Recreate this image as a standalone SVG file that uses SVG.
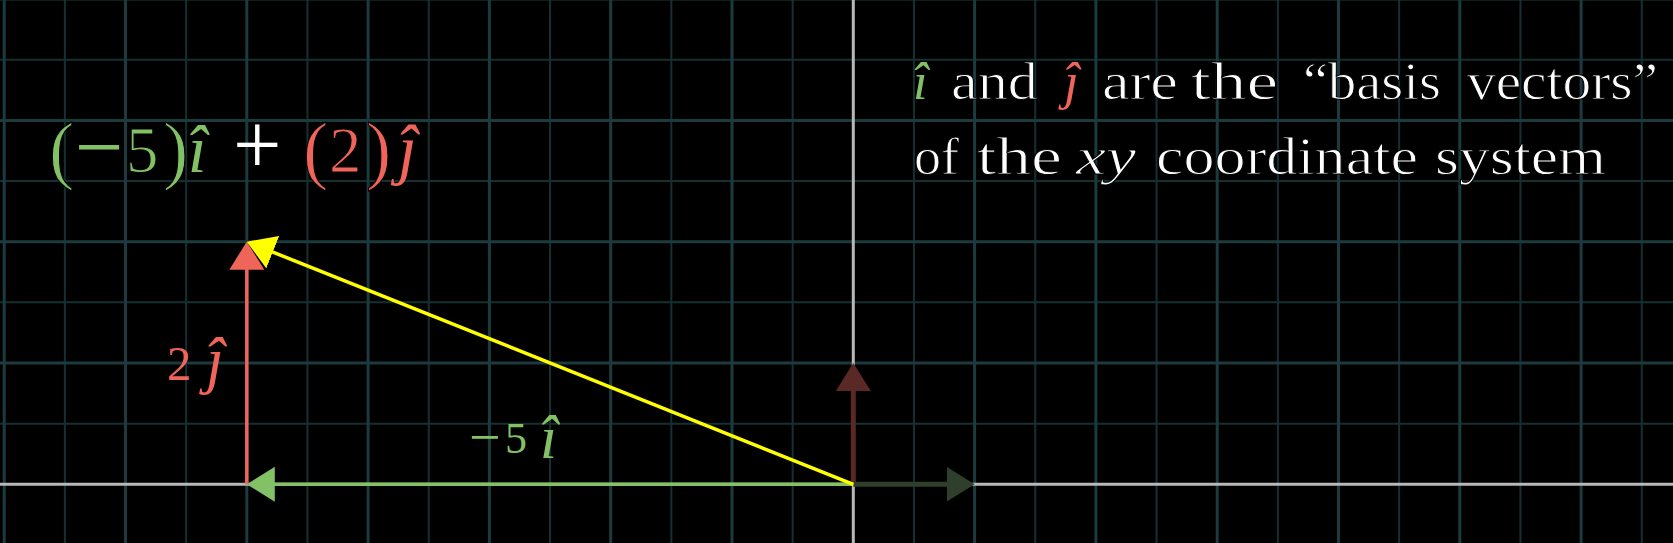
<svg xmlns="http://www.w3.org/2000/svg" width="1673" height="543" viewBox="0 0 1673 543">
<style>
  .minor{stroke:#163032;stroke-width:2}
  .major{stroke:#1c3b3e;stroke-width:3}
  .axis{stroke:#b8b8b8;stroke-width:3}
  .t{font-family:"Liberation Serif","Times New Roman",serif;fill:#ffffff}
  .thin{stroke:#000000;stroke-width:1}
  .it{font-style:italic}
  .g{fill:#83c167}
  .r{fill:#f0655a}
  .cap{font-size:53px}
</style>
<defs>
  <marker id="hg" viewBox="0 -17.5 28 35" markerWidth="28" markerHeight="35" refX="8" refY="0" orient="auto" markerUnits="userSpaceOnUse"><path d="M0,-17.5 L28,0 L0,17.5 Z" fill="#83c167"/></marker>
  <marker id="hr" viewBox="0 -17.5 28 35" markerWidth="28" markerHeight="35" refX="8" refY="0" orient="auto" markerUnits="userSpaceOnUse"><path d="M0,-17.5 L28,0 L0,17.5 Z" fill="#f0655a"/></marker>
  <marker id="hy" viewBox="0 -17.5 28 35" markerWidth="28" markerHeight="35" refX="8" refY="0" orient="auto" markerUnits="userSpaceOnUse"><path d="M0,-17.5 L28,0 L0,17.5 Z" fill="#ffff00"/></marker>
  <marker id="hfr" viewBox="0 -17.5 28 35" markerWidth="28" markerHeight="35" refX="8" refY="0" orient="auto" markerUnits="userSpaceOnUse"><path d="M0,-17.5 L28,0 L0,17.5 Z" fill="#5a2925"/></marker>
  <marker id="hfg" viewBox="0 -17.5 28 35" markerWidth="28" markerHeight="35" refX="8" refY="0" orient="auto" markerUnits="userSpaceOnUse"><path d="M0,-17.5 L28,0 L0,17.5 Z" fill="#303e2c"/></marker>
</defs>
<rect x="0" y="0" width="1673" height="543" fill="#000000"/>
<g id="grid">
  <g class="minor">
    <line x1="64.85" y1="0" x2="64.85" y2="543"/>
    <line x1="186.15" y1="0" x2="186.15" y2="543"/>
    <line x1="307.45" y1="0" x2="307.45" y2="543"/>
    <line x1="428.75" y1="0" x2="428.75" y2="543"/>
    <line x1="550.05" y1="0" x2="550.05" y2="543"/>
    <line x1="671.35" y1="0" x2="671.35" y2="543"/>
    <line x1="792.65" y1="0" x2="792.65" y2="543"/>
    <line x1="913.95" y1="0" x2="913.95" y2="543"/>
    <line x1="1035.25" y1="0" x2="1035.25" y2="543"/>
    <line x1="1156.55" y1="0" x2="1156.55" y2="543"/>
    <line x1="1277.85" y1="0" x2="1277.85" y2="543"/>
    <line x1="1399.15" y1="0" x2="1399.15" y2="543"/>
    <line x1="1520.45" y1="0" x2="1520.45" y2="543"/>
    <line x1="1641.75" y1="0" x2="1641.75" y2="543"/>
    <line x1="0" y1="423.65" x2="1673" y2="423.65"/>
    <line x1="0" y1="302.35" x2="1673" y2="302.35"/>
    <line x1="0" y1="181.05" x2="1673" y2="181.05"/>
    <line x1="0" y1="59.75" x2="1673" y2="59.75"/>
  </g>
  <g class="major">
    <line x1="4.2" y1="0" x2="4.2" y2="543"/>
    <line x1="125.5" y1="0" x2="125.5" y2="543"/>
    <line x1="246.8" y1="0" x2="246.8" y2="543"/>
    <line x1="368.1" y1="0" x2="368.1" y2="543"/>
    <line x1="489.4" y1="0" x2="489.4" y2="543"/>
    <line x1="610.7" y1="0" x2="610.7" y2="543"/>
    <line x1="732" y1="0" x2="732" y2="543"/>
    <line x1="974.6" y1="0" x2="974.6" y2="543"/>
    <line x1="1095.9" y1="0" x2="1095.9" y2="543"/>
    <line x1="1217.2" y1="0" x2="1217.2" y2="543"/>
    <line x1="1338.5" y1="0" x2="1338.5" y2="543"/>
    <line x1="1459.8" y1="0" x2="1459.8" y2="543"/>
    <line x1="1581.1" y1="0" x2="1581.1" y2="543"/>
    <line x1="0" y1="363" x2="1673" y2="363"/>
    <line x1="0" y1="241.7" x2="1673" y2="241.7"/>
    <line x1="0" y1="120.4" x2="1673" y2="120.4"/>
    <line x1="0" y1="-0.9" x2="1673" y2="-0.9"/>
  </g>
</g>
<g id="axes" class="axis">
  <line x1="0" y1="484.3" x2="1673" y2="484.3"/>
  <line x1="853.3" y1="0" x2="853.3" y2="543"/>
</g>
<g id="connectors" fill="none">
  <line id="basis-j" x1="853.3" y1="484.3" x2="853.3" y2="383" stroke="#5a2925" stroke-width="5" marker-end="url(#hfr)"/>
  <line id="basis-i" x1="853.3" y1="484.3" x2="954.6" y2="484.3" stroke="#303e2c" stroke-width="5" marker-end="url(#hfg)"/>
  <line id="vec-minus5i" x1="853.3" y1="484.3" x2="266.8" y2="484.3" stroke="#83c167" stroke-width="3.5" marker-end="url(#hg)"/>
  <line id="vec-2j" x1="246.8" y1="484.3" x2="246.8" y2="261.7" stroke="#f0655a" stroke-width="3.5" marker-end="url(#hr)"/>
  <line id="vec-sum" x1="853.3" y1="484.3" x2="265.36" y2="249.12" stroke="#ffff00" stroke-width="3.5" marker-end="url(#hy)"/>
</g>
<g id="formula" class="t">
  <text class="g thin" x="49" y="174.5" font-size="76">(</text>
  <text class="g" x="75" y="176" font-size="86">−</text>
  <text class="g thin" x="126" y="172" font-size="65">5</text>
  <text class="g thin" x="163" y="174.5" font-size="76">)</text>
  <text class="g it" x="188" y="172" font-size="67">î</text>
  <text x="233" y="174" font-size="86">+</text>
  <text class="r thin" x="303" y="174.5" font-size="76">(</text>
  <text class="r thin" x="329" y="172" font-size="65">2</text>
  <text class="r thin" x="366" y="174.5" font-size="76">)</text>
  <text class="r it" x="398" y="172" font-size="67">ĵ</text>
</g>
<g id="caption" class="t cap">
  <text class="g it" x="913" y="98.5">î</text>
  <text class="thin" x="951" y="98.5" textLength="87" lengthAdjust="spacingAndGlyphs">and</text>
  <text class="r it" x="1064" y="98.5">ĵ</text>
  <text class="thin" x="1102" y="98.5" textLength="76" lengthAdjust="spacingAndGlyphs">are</text>
  <text class="thin" x="1191" y="98.5" textLength="87" lengthAdjust="spacingAndGlyphs">the</text>
  <text class="thin" x="1303" y="98.5" textLength="138" lengthAdjust="spacingAndGlyphs">“basis</text>
  <text class="thin" x="1467" y="98.5" textLength="191" lengthAdjust="spacingAndGlyphs">vectors”</text>
  <text class="thin" x="914" y="173.5" textLength="45" lengthAdjust="spacingAndGlyphs">of</text>
  <text class="thin" x="977" y="173.5" textLength="85" lengthAdjust="spacingAndGlyphs">the</text>
  <text class="it thin" x="1076" y="173.5" textLength="60" lengthAdjust="spacingAndGlyphs">xy</text>
  <text class="thin" x="1156" y="173.5" textLength="262" lengthAdjust="spacingAndGlyphs">coordinate</text>
  <text class="thin" x="1435" y="173.5" textLength="171" lengthAdjust="spacingAndGlyphs">system</text>
</g>
<g id="label-2j" class="t r">
  <text x="167" y="380" font-size="49">2</text>
  <text class="it" x="206" y="381" font-size="64">ĵ</text>
</g>
<g id="label-minus5i" class="t g">
  <text x="469" y="456" font-size="56">−</text>
  <text x="505" y="453" font-size="44">5</text>
  <text class="it" x="540" y="458" font-size="62">î</text>
</g>
</svg>
